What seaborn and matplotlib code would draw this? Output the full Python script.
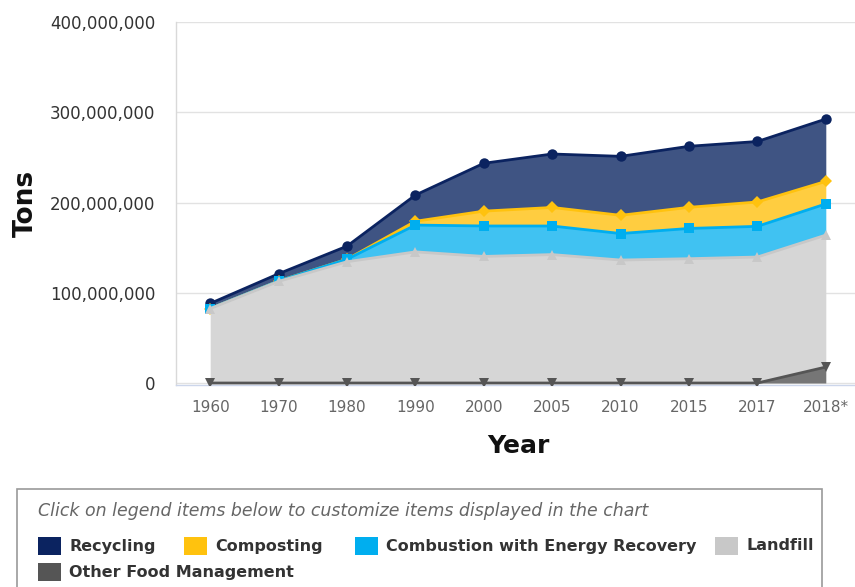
import numpy as np
import pandas as pd
import seaborn as sns
import matplotlib.pyplot as plt
from matplotlib.patches import Rectangle
from matplotlib.ticker import FuncFormatter, FixedLocator

# Municipal solid waste management, tons per year
years = ["1960", "1970", "1980", "1990", "2000", "2005", "2010", "2015", "2017", "2018*"]
recycling = [5.62e6, 8.02e6, 14.52e6, 29.04e6, 53.01e6, 59.24e6, 65.35e6, 67.63e6, 67.00e6, 69.07e6]
composting = [0, 0, 0, 4.20e6, 16.45e6, 20.55e6, 20.17e6, 23.40e6, 27.00e6, 24.97e6]
combustion = [0, 0.40e6, 2.75e6, 29.70e6, 33.73e6, 31.66e6, 29.38e6, 33.51e6, 34.00e6, 34.56e6]
landfill = [82.51e6, 112.64e6, 134.37e6, 145.30e6, 140.26e6, 142.29e6, 136.25e6, 137.74e6, 139.60e6, 146.18e6]
other_food = [0, 0, 0, 0, 0, 0, 0, 0, 0, 17.70e6]

series_names = ["Recycling", "Composting", "Combustion with Energy Recovery", "Landfill", "Other Food Management"]
line_colors = ["#0b2360", "#ffc20e", "#00aeef", "#c8c8c8", "#555555"]
fill_colors = ["#3f5483", "#ffcd40", "#40c2f2", "#d6d6d6", "#767676"]
markers = ["o", "D", "s", "^", "v"]
marker_sizes = [7.5, 6, 7, 7.5, 7.5]

sns.set_theme(style="white")
plt.rcParams["font.family"] = ["DejaVu Sans"]

W, H = 855, 587
fig = plt.figure(figsize=(W / 100, H / 100), dpi=100)
ax = fig.add_axes([176 / W, 1 - 385 / H, 684 / W, 363 / H])

# Stack from the bottom: other food, landfill, combustion, composting, recycling
values = [recycling, composting, combustion, landfill, other_food]
stack_order = [4, 3, 2, 1, 0]
x = np.arange(len(years))
tops, bottoms = {}, {}
running = np.zeros(len(years))
for i in stack_order:
    bottoms[i] = running.copy()
    running = running + np.array(values[i], dtype=float)
    tops[i] = running.copy()

df = pd.DataFrame({"pos": x, "year": years})
for i, name in enumerate(series_names):
    df[name] = tops[i]

# Draw top of stack first, lower series above it
for i in range(5):
    ax.fill_between(x, bottoms[i], tops[i], color=fill_colors[i], linewidth=0, zorder=2 + i)
    sns.lineplot(data=df, x="pos", y=series_names[i], ax=ax, color=line_colors[i],
                 linewidth=2, marker=markers[i], markersize=marker_sizes[i],
                 markeredgewidth=0, zorder=2.5 + i)

ax.set_xlim(-0.5, 9.5)
ax.set_ylim(-2.2e6, 400e6)
ax.set_yticks([0, 100e6, 200e6, 300e6, 400e6])
ax.yaxis.set_major_formatter(FuncFormatter(lambda v, p: f"{v:,.0f}"))
ax.set_xticks(x)
ax.set_xticklabels(years)
ax.xaxis.set_minor_locator(FixedLocator(np.arange(-0.5, 10, 1)))

ax.yaxis.grid(True, color="#e2e2e2", linewidth=1)
ax.xaxis.grid(False)
ax.set_axisbelow(True)
for s in ["top", "right"]:
    ax.spines[s].set_visible(False)
ax.spines["left"].set_color("#d9d9d9")
ax.spines["left"].set_linewidth(1)
ax.spines["bottom"].set_color("#ccd6eb")
ax.spines["bottom"].set_linewidth(1)

ax.tick_params(axis="y", length=0, pad=15, labelsize=12, labelcolor="#333333")
ax.tick_params(axis="x", which="major", length=0, pad=11, labelsize=11, labelcolor="#666666")
ax.tick_params(axis="x", which="minor", length=10, width=1, color="#ccd6eb")
ax.set_xlabel("")
ax.set_ylabel("")


def fx(px):
    return px / W


def fy(py):
    return 1 - py / H


fig.text(fx(26), fy(203), "Tons", rotation=90, fontsize=19, fontweight="bold",
         color="#111111", ha="center", va="center")
fig.text(fx(518), fy(446), "Year", fontsize=18, fontweight="bold",
         color="#111111", ha="center", va="center")

# Legend panel
fig.patches.append(Rectangle((fx(17), fy(600)), fx(822) - fx(17), fy(489) - fy(600),
                             transform=fig.transFigure, facecolor="white",
                             edgecolor="#9a9a9a", linewidth=1.2))
fig.text(fx(38), fy(511), "Click on legend items below to customize items displayed in the chart",
         fontsize=12.5, style="italic", color="#666666", ha="left", va="center")

legend_items = [
    (0, 38, 546),
    (1, 184, 546),
    (2, 355, 546),
    (3, 715, 546),
    (4, 38, 572),
]
for i, px, py in legend_items:
    fig.patches.append(Rectangle((fx(px), fy(py + 9)), fx(23), 18 / H,
                                 transform=fig.transFigure, facecolor=line_colors[i],
                                 edgecolor="none"))
    fig.text(fx(px + 31), fy(py), series_names[i], fontsize=11.5, fontweight="bold",
             color="#333333", ha="left", va="center")

fig.savefig("out.png", dpi=100)
